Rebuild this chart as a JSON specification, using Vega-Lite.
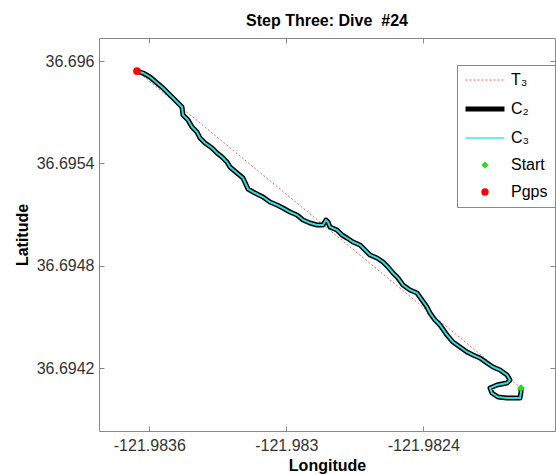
{
  "$schema": "https://vega.github.io/schema/vega-lite/v6.json",
  "width": 456,
  "height": 393,
  "autosize": {"type": "none"},
  "padding": {"left": 99, "top": 38, "right": 1, "bottom": 43},
  "background": "white",
  "title": {"text": "Step Three: Dive\u00a0 #24", "font": "Liberation Sans", "fontSize": 16, "fontWeight": "bold", "color": "black", "offset": 9, "anchor": "middle"},
  "config": {
    "view": {"stroke": "#888", "strokeWidth": 1},
    "axis": {"grid": false, "domain": false, "tickColor": "#888", "tickSize": -5, "labelFont": "Liberation Sans", "labelFontSize": 16, "labelColor": "#333", "titleFont": "Liberation Sans", "titleFontSize": 16, "titleFontWeight": "bold", "titleColor": "black"}
  },
  "datasets": {
    "ends": [
      {"i": 0, "series": "Pgps", "lon": -121.9836539, "lat": 36.6959414},
      {"i": 1, "series": "Start", "lon": -121.9819721, "lat": 36.6940841}
    ],
    "track": [
      {"i": 1, "lon": -121.9836539, "lat": 36.6959414},
      {"i": 2, "lon": -121.9836276, "lat": 36.6959297},
      {"i": 3, "lon": -121.9835969, "lat": 36.6959063},
      {"i": 4, "lon": -121.9835663, "lat": 36.6958711},
      {"i": 5, "lon": -121.98354, "lat": 36.6958418},
      {"i": 6, "lon": -121.9835093, "lat": 36.6958008},
      {"i": 7, "lon": -121.9834787, "lat": 36.6957598},
      {"i": 8, "lon": -121.9834568, "lat": 36.6957305},
      {"i": 9, "lon": -121.9834524, "lat": 36.6956836},
      {"i": 10, "lon": -121.9834305, "lat": 36.6956543},
      {"i": 11, "lon": -121.983413, "lat": 36.6956133},
      {"i": 12, "lon": -121.9833911, "lat": 36.695584},
      {"i": 13, "lon": -121.983378, "lat": 36.6955489},
      {"i": 14, "lon": -121.9833561, "lat": 36.6955196},
      {"i": 15, "lon": -121.9833254, "lat": 36.6954903},
      {"i": 16, "lon": -121.9833035, "lat": 36.695461},
      {"i": 17, "lon": -121.9832816, "lat": 36.6954375},
      {"i": 18, "lon": -121.9832597, "lat": 36.6954082},
      {"i": 19, "lon": -121.9832466, "lat": 36.6953789},
      {"i": 20, "lon": -121.9832159, "lat": 36.6953438},
      {"i": 21, "lon": -121.9831896, "lat": 36.6953145},
      {"i": 22, "lon": -121.9831677, "lat": 36.69525},
      {"i": 23, "lon": -121.9831371, "lat": 36.6952266},
      {"i": 24, "lon": -121.983102, "lat": 36.6952032},
      {"i": 25, "lon": -121.9830714, "lat": 36.6951739},
      {"i": 26, "lon": -121.9830407, "lat": 36.6951563},
      {"i": 27, "lon": -121.9830145, "lat": 36.6951387},
      {"i": 28, "lon": -121.9829838, "lat": 36.6951153},
      {"i": 29, "lon": -121.9829531, "lat": 36.6950977},
      {"i": 30, "lon": -121.9829269, "lat": 36.6950684},
      {"i": 31, "lon": -121.9828962, "lat": 36.6950508},
      {"i": 32, "lon": -121.9828655, "lat": 36.6950391},
      {"i": 33, "lon": -121.9828393, "lat": 36.6950391},
      {"i": 34, "lon": -121.9828261, "lat": 36.6950684},
      {"i": 35, "lon": -121.9828174, "lat": 36.6950567},
      {"i": 36, "lon": -121.9828086, "lat": 36.6950274},
      {"i": 37, "lon": -121.982778, "lat": 36.6950098},
      {"i": 38, "lon": -121.982756, "lat": 36.6949805},
      {"i": 39, "lon": -121.9827342, "lat": 36.694963},
      {"i": 40, "lon": -121.9827079, "lat": 36.6949395},
      {"i": 41, "lon": -121.9826772, "lat": 36.6949219},
      {"i": 42, "lon": -121.9826553, "lat": 36.6948926},
      {"i": 43, "lon": -121.9826334, "lat": 36.6948634},
      {"i": 44, "lon": -121.9826028, "lat": 36.6948458},
      {"i": 45, "lon": -121.9825765, "lat": 36.6948223},
      {"i": 46, "lon": -121.9825546, "lat": 36.694793},
      {"i": 47, "lon": -121.9825327, "lat": 36.6947579},
      {"i": 48, "lon": -121.9825108, "lat": 36.6947286},
      {"i": 49, "lon": -121.9824889, "lat": 36.6946876},
      {"i": 50, "lon": -121.9824582, "lat": 36.6946583},
      {"i": 51, "lon": -121.9824276, "lat": 36.6946407},
      {"i": 52, "lon": -121.9824057, "lat": 36.6945997},
      {"i": 53, "lon": -121.9823838, "lat": 36.6945587},
      {"i": 54, "lon": -121.9823707, "lat": 36.6945235},
      {"i": 55, "lon": -121.9823488, "lat": 36.6944825},
      {"i": 56, "lon": -121.9823269, "lat": 36.6944532},
      {"i": 57, "lon": -121.9822962, "lat": 36.6943946},
      {"i": 58, "lon": -121.9822699, "lat": 36.6943536},
      {"i": 59, "lon": -121.9822393, "lat": 36.6943243},
      {"i": 60, "lon": -121.9822086, "lat": 36.694295},
      {"i": 61, "lon": -121.9821823, "lat": 36.6942775},
      {"i": 62, "lon": -121.9821517, "lat": 36.6942599},
      {"i": 63, "lon": -121.982121, "lat": 36.6942306},
      {"i": 64, "lon": -121.9820947, "lat": 36.6942071},
      {"i": 65, "lon": -121.9820641, "lat": 36.6941896},
      {"i": 66, "lon": -121.9820334, "lat": 36.6941603},
      {"i": 67, "lon": -121.9820203, "lat": 36.694131},
      {"i": 68, "lon": -121.9820334, "lat": 36.6941134},
      {"i": 69, "lon": -121.9820772, "lat": 36.6941017},
      {"i": 70, "lon": -121.9821079, "lat": 36.6940841},
      {"i": 71, "lon": -121.9820991, "lat": 36.6940548},
      {"i": 72, "lon": -121.9820728, "lat": 36.6940314},
      {"i": 73, "lon": -121.9820334, "lat": 36.6940255},
      {"i": 74, "lon": -121.9819765, "lat": 36.6940255},
      {"i": 75, "lon": -121.9819721, "lat": 36.6940607},
      {"i": 76, "lon": -121.9819721, "lat": 36.6940841}
    ]
  },
  "layer": [
    {
      "data": {"name": "ends"},
      "mark": {"type": "line", "color": "#f06060", "strokeWidth": 1, "strokeDash": [2, 2]},
      "encoding": {
        "x": {"field": "lon", "type": "quantitative", "scale": {"domain": [-121.9838203, -121.9818232], "zero": false, "nice": false},
              "axis": {"orient": "top", "labels": false, "title": null, "values": [-121.9836, -121.983, -121.9824]}},
        "y": {"field": "lat", "type": "quantitative", "scale": {"domain": [36.6938322, 36.6961348], "zero": false, "nice": false},
              "axis": {"orient": "right", "labels": false, "title": null, "values": [36.696, 36.6954, 36.6948, 36.6942]}},
        "order": {"field": "i"}
      }
    },
    {
      "data": {"name": "track"},
      "mark": {"type": "line", "color": "black", "strokeWidth": 5, "strokeJoin": "round"},
      "encoding": {
        "x": {"field": "lon", "type": "quantitative", "axis": {"orient": "bottom", "title": "Longitude", "values": [-121.9836, -121.983, -121.9824], "labelExpr": "'' + datum.value", "labelPadding": 11, "titlePadding": 4}},
        "y": {"field": "lat", "type": "quantitative", "axis": {"orient": "left", "title": "Latitude", "values": [36.696, 36.6954, 36.6948, 36.6942], "labelExpr": "'' + datum.value", "labelPadding": 10, "titlePadding": 6}},
        "order": {"field": "i"}
      }
    },
    {
      "data": {"name": "track"},
      "mark": {"type": "line", "color": "#33dddd", "strokeWidth": 2},
      "encoding": {
        "x": {"field": "lon", "type": "quantitative", "axis": null},
        "y": {"field": "lat", "type": "quantitative", "axis": null},
        "order": {"field": "i"}
      }
    },
    {
      "data": {"name": "ends"},
      "mark": {"type": "point", "filled": true, "opacity": 1, "size": 60, "strokeWidth": 0},
      "encoding": {
        "x": {"field": "lon", "type": "quantitative", "axis": null},
        "y": {"field": "lat", "type": "quantitative", "axis": null},
        "shape": {"field": "series", "type": "nominal", "scale": {"domain": ["Start", "Pgps"], "range": ["diamond", "circle"]}, "legend": null},
        "color": {
          "field": "series", "type": "nominal",
          "scale": {"domain": ["T3", "C2", "C3", "Start", "Pgps"], "range": ["#f06060", "#000000", "#66f0f0", "#22dd22", "#ff0000"]},
          "legend": {
            "orient": "none", "legendX": 358, "legendY": 27, "title": null,
            "padding": 7, "strokeColor": "#888", "fillColor": "white", "cornerRadius": 0,
            "symbolSize": 100, "rowPadding": 11, "labelOffset": 31,
            "labelFont": "Liberation Sans", "labelFontSize": 16, "labelColor": "black",
            "labelExpr": "datum.value === 'T3' ? 'T₃' : datum.value === 'C2' ? 'C₂' : datum.value === 'C3' ? 'C₃' : datum.value === 'Pgps' ? 'Pgps' : datum.label",
            "encoding": {
              "symbols": {
                "shape": {"value": {"expr": "datum.value === 'Start' ? 'diamond' : datum.value === 'Pgps' ? 'circle' : 'stroke'"}},
                "size": {"value": {"expr": "datum.value === 'Start' ? 50 : datum.value === 'Pgps' ? 55 : 1521"}},
                "stroke": {"value": {"expr": "datum.value === 'T3' ? '#f06060' : datum.value === 'C2' ? '#000000' : datum.value === 'C3' ? '#66f0f0' : 'transparent'"}},
                "fill": {"value": {"expr": "datum.value === 'Start' ? '#22dd22' : datum.value === 'Pgps' ? '#ff0000' : 'transparent'"}},
                "strokeWidth": {"value": {"expr": "datum.value === 'C2' ? 5 : datum.value === 'C3' ? 2 : datum.value === 'T3' ? 1 : 0"}},
                "strokeDash": {"value": {"expr": "datum.value === 'T3' ? [2, 2] : [1, 0]"}},
                "x": {"value": 21},
                "opacity": {"value": 1}
              }
            }
          }
        }
      }
    }
  ],
  "resolve": {"axis": {"x": "independent", "y": "independent"}}
}
